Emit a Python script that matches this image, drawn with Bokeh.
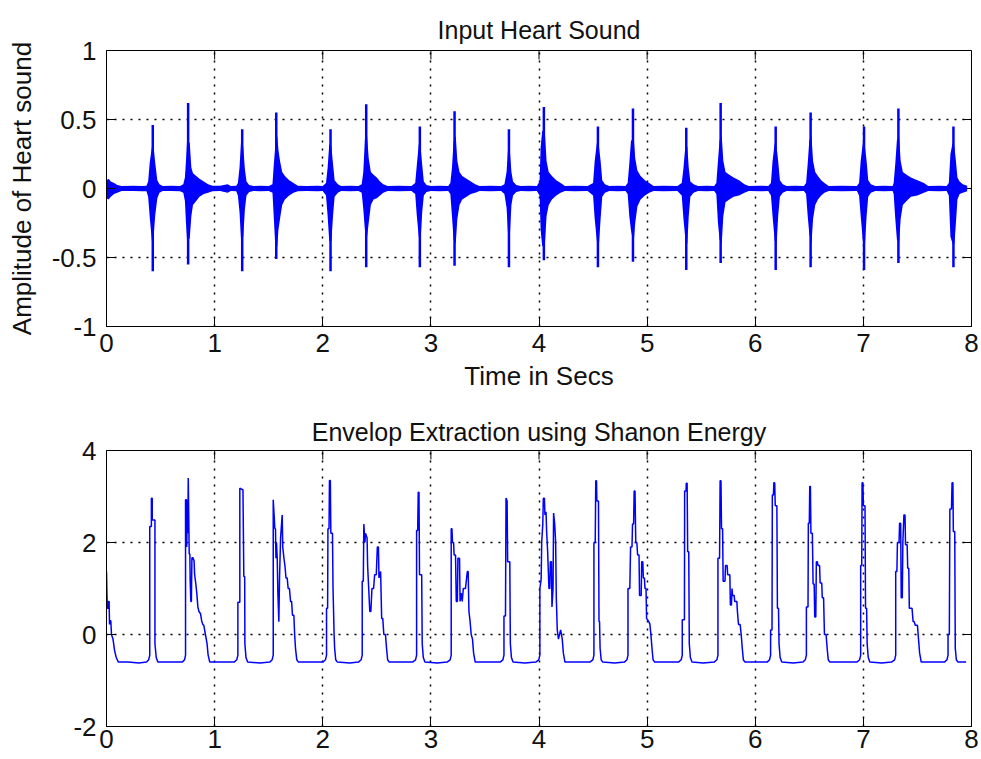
from bokeh.plotting import figure
from bokeh.layouts import column
from bokeh.models import FixedTicker, Range1d
from bokeh.embed import file_html
from bokeh.resources import INLINE

# ---------------- texts / ticks ----------------
title_top = "Input Heart Sound"
title_bottom = "Envelop Extraction using Shanon Energy"
xlabel_top = "Time in Secs"
ylabel_top = "Amplitude of Heart sound"
x_ticks = [0, 1, 2, 3, 4, 5, 6, 7, 8]
y_ticks_top = [-1, -0.5, 0, 0.5, 1]
y_labels_top = ["-1", "-0.5", "0", "0.5", "1"]
y_ticks_bottom = [-2, 0, 2, 4]
y_labels_bottom = ["-2", "0", "2", "4"]

# ---------------- input heart sound: main spikes ----------------
spike_t = [0.428, 0.755, 1.255, 1.570, 2.072, 2.402, 2.898, 3.219, 3.722, 4.045,
           4.545, 4.869, 5.362, 5.680, 6.189, 6.512, 7.006, 7.324, 7.833]
spike_hi = [0.46, 0.62, 0.43, 0.55, 0.43, 0.61, 0.45, 0.56, 0.43, 0.59,
            0.45, 0.58, 0.44, 0.62, 0.45, 0.55, 0.45, 0.58, 0.45]
spike_lo = [-0.60, -0.55, -0.60, -0.51, -0.60, -0.57, -0.57, -0.56, -0.57, -0.52,
            -0.57, -0.53, -0.59, -0.54, -0.59, -0.57, -0.59, -0.54, -0.57]

# ---------------- input heart sound: oscillation envelope (upper / lower) ----------------
sig_t = [0.000, 0.020, 0.040, 0.070, 0.100, 0.140, 0.250, 0.330,
         0.370, 0.385, 0.400, 0.420, 0.436, 0.450, 0.470, 0.490, 0.520,
         0.600, 0.680,
         0.710, 0.725, 0.735, 0.745, 0.770, 0.785, 0.800, 0.830, 0.860, 0.900, 0.940, 0.980,
         1.050, 1.120, 1.150, 1.200,
         1.215, 1.230, 1.245, 1.265, 1.280, 1.295, 1.320, 1.360,
         1.420, 1.500,
         1.535, 1.545, 1.560, 1.580, 1.590, 1.605, 1.625, 1.650, 1.690, 1.730, 1.770,
         1.850, 1.950, 2.000,
         2.030, 2.045, 2.060, 2.080, 2.095, 2.110, 2.140, 2.170,
         2.250, 2.330,
         2.360, 2.375, 2.390, 2.410, 2.425, 2.445, 2.470, 2.500, 2.530, 2.560, 2.600,
         2.700, 2.820,
         2.855, 2.870, 2.888, 2.905, 2.920, 2.935, 2.960, 3.000,
         3.080, 3.160,
         3.180, 3.195, 3.210, 3.230, 3.245, 3.265, 3.290, 3.330, 3.370, 3.410, 3.450,
         3.550, 3.650,
         3.680, 3.700, 3.715, 3.732, 3.745, 3.760, 3.790, 3.830,
         3.900, 3.980,
         4.005, 4.015, 4.030, 4.055, 4.070, 4.090, 4.120, 4.160, 4.200, 4.240,
         4.330, 4.450,
         4.500, 4.515, 4.535, 4.555, 4.570, 4.585, 4.610, 4.650,
         4.730, 4.800,
         4.820, 4.835, 4.850, 4.875, 4.890, 4.910, 4.940, 4.980, 5.020, 5.060,
         5.150, 5.280,
         5.320, 5.335, 5.355, 5.372, 5.385, 5.400, 5.430, 5.470,
         5.550, 5.620,
         5.640, 5.655, 5.670, 5.690, 5.705, 5.725, 5.760, 5.800, 5.850, 5.900, 5.940,
         6.050, 6.120,
         6.145, 6.160, 6.180, 6.198, 6.212, 6.228, 6.255, 6.290,
         6.370, 6.450,
         6.470, 6.485, 6.500, 6.520, 6.535, 6.555, 6.580, 6.610, 6.640, 6.680,
         6.800, 6.940,
         6.960, 6.975, 6.995, 7.015, 7.030, 7.045, 7.070, 7.110,
         7.190, 7.270,
         7.280, 7.295, 7.310, 7.330, 7.345, 7.365, 7.400, 7.440, 7.500, 7.560, 7.600,
         7.700, 7.770,
         7.790, 7.805, 7.825, 7.842, 7.856, 7.870, 7.890, 7.920, 7.960]
sig_hi = [0.06, 0.07, 0.05, 0.04, 0.025, 0.018, 0.020, 0.018,
          0.020, 0.050, 0.190, 0.300, 0.300, 0.190, 0.060, 0.030, 0.018,
          0.020, 0.018,
          0.030, 0.080, 0.200, 0.350, 0.330, 0.150, 0.110, 0.090, 0.070, 0.050, 0.030, 0.020,
          0.020, 0.030, 0.018, 0.020,
          0.040, 0.150, 0.350, 0.300, 0.140, 0.050, 0.025, 0.018,
          0.020, 0.018,
          0.030, 0.150, 0.300, 0.380, 0.280, 0.200, 0.120, 0.090, 0.060, 0.040, 0.020,
          0.018, 0.020, 0.018,
          0.040, 0.150, 0.320, 0.300, 0.180, 0.060, 0.030, 0.018,
          0.020, 0.018,
          0.030, 0.120, 0.360, 0.380, 0.220, 0.120, 0.100, 0.080, 0.050, 0.030, 0.018,
          0.020, 0.018,
          0.040, 0.170, 0.320, 0.300, 0.170, 0.050, 0.025, 0.018,
          0.020, 0.018,
          0.040, 0.150, 0.340, 0.380, 0.200, 0.120, 0.090, 0.070, 0.050, 0.030, 0.018,
          0.020, 0.018,
          0.030, 0.120, 0.300, 0.260, 0.120, 0.050, 0.025, 0.018,
          0.020, 0.018,
          0.050, 0.300, 0.420, 0.400, 0.200, 0.120, 0.090, 0.060, 0.040, 0.018,
          0.020, 0.018,
          0.040, 0.200, 0.330, 0.300, 0.200, 0.060, 0.030, 0.018,
          0.020, 0.018,
          0.040, 0.180, 0.340, 0.380, 0.220, 0.130, 0.090, 0.060, 0.040, 0.018,
          0.020, 0.018,
          0.040, 0.140, 0.320, 0.300, 0.150, 0.050, 0.030, 0.018,
          0.020, 0.018,
          0.040, 0.200, 0.350, 0.380, 0.200, 0.120, 0.100, 0.080, 0.060, 0.030, 0.018,
          0.020, 0.018,
          0.040, 0.200, 0.330, 0.300, 0.200, 0.060, 0.030, 0.018,
          0.020, 0.018,
          0.040, 0.180, 0.350, 0.380, 0.200, 0.120, 0.090, 0.060, 0.040, 0.018,
          0.020, 0.018,
          0.040, 0.200, 0.330, 0.300, 0.200, 0.060, 0.030, 0.018,
          0.020, 0.018,
          0.040, 0.180, 0.350, 0.380, 0.200, 0.120, 0.100, 0.080, 0.060, 0.040, 0.018,
          0.020, 0.018,
          0.040, 0.250, 0.330, 0.300, 0.200, 0.080, 0.050, 0.030, 0.020]
sig_lo = [-0.07, -0.08, -0.06, -0.04, -0.03, -0.018, -0.018, -0.020,
          -0.020, -0.060, -0.210, -0.380, -0.350, -0.200, -0.070, -0.030, -0.018,
          -0.018, -0.020,
          -0.030, -0.090, -0.250, -0.380, -0.360, -0.200, -0.120, -0.090, -0.060, -0.040, -0.030, -0.020,
          -0.018, -0.030, -0.018, -0.020,
          -0.050, -0.170, -0.380, -0.350, -0.150, -0.050, -0.025, -0.018,
          -0.020, -0.018,
          -0.030, -0.180, -0.400, -0.420, -0.300, -0.220, -0.120, -0.080, -0.050, -0.030, -0.020,
          -0.018, -0.020, -0.018,
          -0.050, -0.200, -0.380, -0.380, -0.200, -0.060, -0.030, -0.018,
          -0.020, -0.018,
          -0.030, -0.150, -0.300, -0.350, -0.250, -0.120, -0.080, -0.070, -0.050, -0.030, -0.018,
          -0.020, -0.018,
          -0.040, -0.200, -0.350, -0.380, -0.170, -0.050, -0.025, -0.018,
          -0.020, -0.018,
          -0.040, -0.200, -0.370, -0.400, -0.220, -0.120, -0.080, -0.060, -0.040, -0.030, -0.018,
          -0.020, -0.018,
          -0.040, -0.140, -0.350, -0.320, -0.120, -0.050, -0.025, -0.018,
          -0.020, -0.018,
          -0.050, -0.300, -0.420, -0.400, -0.200, -0.120, -0.080, -0.050, -0.030, -0.018,
          -0.020, -0.018,
          -0.050, -0.220, -0.380, -0.400, -0.220, -0.060, -0.030, -0.018,
          -0.020, -0.018,
          -0.040, -0.200, -0.300, -0.400, -0.250, -0.130, -0.080, -0.050, -0.030, -0.018,
          -0.020, -0.018,
          -0.050, -0.210, -0.380, -0.400, -0.200, -0.060, -0.030, -0.018,
          -0.020, -0.018,
          -0.040, -0.250, -0.370, -0.400, -0.200, -0.100, -0.080, -0.060, -0.050, -0.030, -0.018,
          -0.020, -0.018,
          -0.050, -0.200, -0.380, -0.400, -0.200, -0.060, -0.030, -0.018,
          -0.020, -0.018,
          -0.040, -0.200, -0.330, -0.400, -0.220, -0.120, -0.080, -0.050, -0.030, -0.018,
          -0.020, -0.018,
          -0.050, -0.200, -0.380, -0.400, -0.200, -0.060, -0.030, -0.018,
          -0.020, -0.018,
          -0.040, -0.220, -0.370, -0.400, -0.220, -0.120, -0.090, -0.060, -0.050, -0.030, -0.018,
          -0.020, -0.018,
          -0.050, -0.350, -0.400, -0.400, -0.250, -0.080, -0.040, -0.030, -0.020]

# ---------------- Shannon energy envelope ----------------
env_t = [0.000, 0.004, 0.008, 0.014, 0.018, 0.024, 0.028, 0.034, 0.040, 0.046, 0.060, 0.075, 0.090, 0.110, 0.200, 0.300, 0.370, 0.390,
         0.400, 0.400, 0.415, 0.415, 0.423, 0.423, 0.448, 0.448, 0.460, 0.475, 0.600, 0.700, 0.722,
         0.731, 0.731, 0.740, 0.742, 0.748, 0.752, 0.756, 0.760, 0.765, 0.771, 0.774, 0.780, 0.785, 0.790, 0.800, 0.810, 0.815, 0.825, 0.835, 0.845, 0.855, 0.870, 0.880, 0.890, 0.900, 0.915, 0.930, 0.940, 0.955, 1.080, 1.180, 1.205,
         1.215, 1.215, 1.233, 1.233, 1.255, 1.262, 1.270, 1.278, 1.280, 1.290, 1.305, 1.420, 1.510, 1.532,
         1.542, 1.542, 1.550, 1.557, 1.563, 1.567, 1.572, 1.579, 1.585, 1.594, 1.600, 1.610, 1.625, 1.630, 1.641, 1.650, 1.660, 1.671, 1.680, 1.692, 1.702, 1.712, 1.720, 1.733, 1.740, 1.748, 1.760, 1.775, 1.900, 2.000, 2.025,
         2.035, 2.035, 2.045, 2.048, 2.058, 2.062, 2.070, 2.075, 2.090, 2.095, 2.105, 2.110, 2.120, 2.135, 2.250, 2.330, 2.355,
         2.365, 2.365, 2.375, 2.380, 2.390, 2.395, 2.410, 2.415, 2.425, 2.435, 2.445, 2.455, 2.470, 2.480, 2.495, 2.505, 2.515, 2.520, 2.535, 2.545, 2.555, 2.565, 2.580, 2.590, 2.600, 2.615, 2.720, 2.830, 2.858,
         2.868, 2.868, 2.878, 2.883, 2.890, 2.895, 2.915, 2.920, 2.930, 2.945, 3.060, 3.150, 3.178,
         3.188, 3.188, 3.195, 3.200, 3.210, 3.215, 3.228, 3.235, 3.245, 3.250, 3.265, 3.270, 3.280, 3.290, 3.300, 3.320, 3.337, 3.345, 3.352, 3.362, 3.373, 3.385, 3.395, 3.410, 3.530, 3.640, 3.666,
         3.676, 3.676, 3.690, 3.695, 3.705, 3.710, 3.730, 3.735, 3.745, 3.760, 3.870, 3.970, 3.998,
         4.008, 4.008, 4.020, 4.025, 4.035, 4.040, 4.050, 4.055, 4.065, 4.070, 4.080, 4.092, 4.100, 4.105, 4.115, 4.120, 4.130, 4.135, 4.145, 4.154, 4.160, 4.169, 4.180, 4.200, 4.215, 4.225, 4.240, 4.360, 4.470, 4.498,
         4.508, 4.508, 4.520, 4.525, 4.532, 4.535, 4.550, 4.555, 4.560, 4.565, 4.575, 4.590, 4.700, 4.790, 4.813,
         4.823, 4.823, 4.840, 4.847, 4.860, 4.865, 4.875, 4.880, 4.888, 4.895, 4.905, 4.912, 4.925, 4.930, 4.945, 4.950, 4.960, 4.965, 4.975, 4.980, 4.990, 4.995, 5.010, 5.025, 5.035, 5.045, 5.055, 5.070, 5.180, 5.290, 5.315,
         5.325, 5.325, 5.345, 5.347, 5.360, 5.362, 5.370, 5.375, 5.385, 5.390, 5.400, 5.415, 5.520, 5.620, 5.645,
         5.655, 5.655, 5.670, 5.675, 5.683, 5.688, 5.698, 5.703, 5.720, 5.725, 5.740, 5.745, 5.765, 5.770, 5.780, 5.785, 5.790, 5.805, 5.810, 5.830, 5.835, 5.845, 5.860, 5.870, 5.880, 5.890, 5.905, 6.010, 6.110, 6.132,
         6.142, 6.142, 6.155, 6.158, 6.168, 6.172, 6.180, 6.185, 6.200, 6.205, 6.215, 6.220, 6.230, 6.245, 6.350, 6.440, 6.463,
         6.473, 6.473, 6.488, 6.491, 6.500, 6.504, 6.510, 6.515, 6.528, 6.535, 6.545, 6.550, 6.560, 6.565, 6.575, 6.580, 6.595, 6.600, 6.615, 6.620, 6.632, 6.640, 6.655, 6.665, 6.675, 6.690, 6.820, 6.940, 6.965,
         6.975, 6.975, 6.985, 6.988, 6.996, 7.000, 7.015, 7.020, 7.030, 7.035, 7.045, 7.060, 7.170, 7.260, 7.289,
         7.299, 7.299, 7.310, 7.315, 7.330, 7.335, 7.345, 7.350, 7.360, 7.365, 7.375, 7.385, 7.390, 7.405, 7.410, 7.420, 7.425, 7.450, 7.460, 7.470, 7.480, 7.500, 7.510, 7.520, 7.535, 7.650, 7.750, 7.773,
         7.783, 7.783, 7.795, 7.800, 7.815, 7.820, 7.828, 7.832, 7.845, 7.850, 7.860, 7.875, 7.950]
env_y = [1.37, 0.90, 0.57, 0.57, 0.72, 0.72, 0.22, 0.30, 0.30, 0.00, -0.10, -0.35, -0.50, -0.60, -0.60, -0.62, -0.60, -0.55,
         -0.45, 2.35, 2.35, 2.96, 2.96, 2.49, 2.49, -0.20, -0.50, -0.60, -0.60, -0.60, -0.55,
         -0.45, 2.93, 2.93, 1.90, 2.90, 2.20, 3.40, 2.70, 1.75, 1.75, 1.16, 0.72, 0.72, 1.67, 1.67, 1.60, 1.30, 1.12, 0.90, 0.60, 0.50, 0.45, 0.30, 0.22, 0.20, 0.00, -0.20, -0.45, -0.60, -0.60, -0.60, -0.55,
         -0.45, 0.70, 0.70, 3.18, 3.15, 3.15, 1.26, 1.26, -0.20, -0.50, -0.60, -0.62, -0.60, -0.55,
         -0.45, 2.93, 2.60, 2.30, 2.30, 1.66, 2.00, 1.66, 0.90, 0.28, 1.20, 2.10, 2.60, 1.90, 1.66, 1.50, 1.23, 1.23, 1.00, 1.00, 0.72, 0.72, 0.42, 0.42, 0.00, -0.30, -0.55, -0.60, -0.60, -0.60, -0.55,
         -0.45, 0.57, 0.57, 2.30, 2.30, 3.35, 3.35, 2.20, 2.20, 1.00, 0.00, -0.30, -0.55, -0.60, -0.62, -0.60, -0.55,
         -0.45, 1.16, 1.16, 2.40, 2.00, 2.20, 2.10, 1.50, 1.00, 0.50, 0.50, 1.00, 1.00, 1.30, 1.30, 1.90, 1.90, 1.23, 1.37, 0.35, 0.35, 0.00, 0.00, -0.30, -0.55, -0.60, -0.60, -0.60, -0.55,
         -0.45, 2.26, 2.26, 3.09, 3.09, 1.30, 1.30, -0.20, -0.50, -0.60, -0.62, -0.60, -0.55,
         -0.45, 2.30, 2.30, 2.00, 2.00, 1.73, 1.73, 0.72, 0.72, 1.66, 1.66, 0.72, 0.90, 0.72, 1.00, 1.00, 1.37, 1.37, 0.50, 0.30, 0.00, -0.10, -0.40, -0.60, -0.60, -0.60, -0.55,
         -0.45, 0.40, 0.40, 2.97, 2.90, 1.58, 1.58, -0.20, -0.50, -0.60, -0.62, -0.60, -0.55,
         -0.45, 1.00, 1.20, 2.00, 2.40, 2.96, 2.96, 2.60, 2.67, 2.27, 1.80, 1.00, 1.00, 1.58, 1.58, 0.60, 1.00, 2.64, 2.40, 2.00, 0.80, 0.10, -0.10, 0.10, -0.10, -0.40, -0.60, -0.60, -0.60, -0.55,
         -0.45, 2.00, 2.00, 3.34, 3.34, 2.90, 2.90, 0.28, 0.28, -0.30, -0.55, -0.60, -0.62, -0.60, -0.55,
         -0.45, 1.00, 1.00, 1.90, 1.90, 2.40, 2.40, 3.12, 3.12, 2.00, 2.00, 1.73, 1.73, 0.85, 0.85, 1.58, 1.58, 1.23, 1.23, 1.00, 1.00, 0.35, 0.30, 0.23, 0.00, -0.30, -0.55, -0.60, -0.60, -0.60, -0.55,
         -0.45, 0.32, 0.32, 3.12, 3.12, 3.29, 3.29, 1.80, 1.80, -0.20, -0.50, -0.60, -0.62, -0.60, -0.55,
         -0.45, 1.66, 1.66, 3.34, 3.34, 2.30, 2.30, 1.16, 1.16, 1.50, 1.50, 1.30, 1.30, 0.64, 0.64, 1.00, 0.85, 0.85, 0.72, 0.72, 0.50, 0.22, 0.22, 0.00, -0.30, -0.55, -0.60, -0.60, -0.60, -0.55,
         -0.45, 0.10, 0.10, 3.03, 3.03, 3.30, 3.30, 2.80, 2.80, 0.57, 0.57, -0.20, -0.50, -0.60, -0.62, -0.60, -0.55,
         -0.45, 0.60, 0.60, 2.42, 2.42, 3.22, 3.22, 2.20, 2.20, 1.10, 1.10, 0.38, 0.38, 1.58, 1.58, 1.50, 1.50, 1.12, 1.12, 0.80, 0.80, 0.00, 0.00, -0.30, -0.55, -0.60, -0.60, -0.60, -0.55,
         -0.45, 1.50, 1.50, 3.30, 3.30, 2.80, 2.80, 0.57, 0.57, -0.20, -0.50, -0.60, -0.62, -0.60, -0.55,
         -0.45, 1.37, 1.37, 2.00, 2.00, 2.42, 2.42, 0.80, 0.80, 2.00, 2.60, 2.60, 1.95, 1.95, 1.44, 1.44, 0.57, 0.57, 0.28, 0.28, 0.20, 0.20, -0.10, -0.40, -0.60, -0.60, -0.60, -0.55,
         -0.45, 0.00, 0.00, 2.73, 2.73, 3.30, 3.30, 2.24, 2.24, -0.30, -0.55, -0.60, -0.60]

assert len(sig_t) == len(sig_hi) == len(sig_lo), (len(sig_t), len(sig_hi), len(sig_lo))
assert len(env_t) == len(env_y), (len(env_t), len(env_y))

# ---------------- styling ----------------
FONT = "Liberation Sans"
BLUE = "#0000ff"
TXT = "#111111"
FRAME_W, FRAME_H = 865, 276
TICK_PX = 9


def make_fig(top, bottom, yr, yticks, ylabels, title, title_standoff):
    p = figure(frame_width=FRAME_W, frame_height=FRAME_H,
               x_range=Range1d(0, 8), y_range=Range1d(*yr),
               output_backend="svg", toolbar_location=None,
               min_border_left=106, min_border_right=9,
               min_border_top=top, min_border_bottom=bottom)
    p.background_fill_color = "white"
    p.border_fill_color = "white"
    p.outline_line_color = "black"
    p.outline_line_width = 1
    p.title.text = title
    p.title.align = "center"
    p.title.text_font = FONT
    p.title.text_font_size = "25px"
    p.title.text_font_style = "normal"
    p.title.text_color = TXT
    p.title.standoff = title_standoff

    for ax in list(p.xaxis) + list(p.yaxis):
        ax.major_tick_in = TICK_PX
        ax.major_tick_out = 0
        ax.minor_tick_line_color = None
        ax.major_tick_line_color = "black"
        ax.axis_line_color = "black"
        ax.major_label_text_font = FONT
        ax.major_label_text_font_size = "26px"
        ax.major_label_text_color = TXT
        ax.axis_label_text_font = FONT
        ax.axis_label_text_font_size = "26px"
        ax.axis_label_text_font_style = "normal"
        ax.axis_label_text_color = TXT
    p.xaxis.ticker = FixedTicker(ticks=x_ticks)
    p.yaxis.ticker = FixedTicker(ticks=yticks)
    p.yaxis.major_label_overrides = {v: s for v, s in zip(yticks, ylabels)}
    p.xaxis.major_label_overrides = {v: str(v) for v in x_ticks}
    p.xaxis.major_label_standoff = 7
    p.yaxis.major_label_standoff = 10

    p.xgrid.ticker = FixedTicker(ticks=x_ticks)
    p.ygrid.ticker = FixedTicker(ticks=yticks)
    p.grid.grid_line_color = "black"
    p.grid.grid_line_dash = "2 6"
    p.grid.grid_line_width = 1.5

    # inward box ticks on the top and right edges (MATLAB "box on")
    ylen = TICK_PX * (yr[1] - yr[0]) / FRAME_H
    xlen = TICK_PX * 8 / FRAME_W
    p.segment(x0=x_ticks, y0=[yr[1]] * len(x_ticks), x1=x_ticks, y1=[yr[1] - ylen] * len(x_ticks),
              line_color="black", line_width=1)
    p.segment(x0=[8] * len(yticks), y0=yticks, x1=[8 - xlen] * len(yticks), y1=yticks,
              line_color="black", line_width=1)
    return p


p1 = make_fig(50, 84, (-1, 1), y_ticks_top, y_labels_top, title_top, 13)
p1.xaxis[0].axis_label = xlabel_top
p1.xaxis[0].axis_label_standoff = 6
p1.yaxis[0].axis_label = ylabel_top
p1.yaxis[0].axis_label_standoff = 12

p1.varea(x=sig_t, y1=sig_lo, y2=sig_hi, fill_color=BLUE)
p1.segment(x0=spike_t, y0=spike_lo, x1=spike_t, y1=spike_hi, line_color=BLUE, line_width=2.5)

p2 = make_fig(39, 33, (-2, 4), y_ticks_bottom, y_labels_bottom, title_bottom, 10)
p2.xaxis[0].major_label_standoff = 3
p2.line(env_t, env_y, line_color=BLUE, line_width=1.5)

layout = column(p1, p2, spacing=0)
open("out.html", "w").write(file_html(layout, INLINE))
